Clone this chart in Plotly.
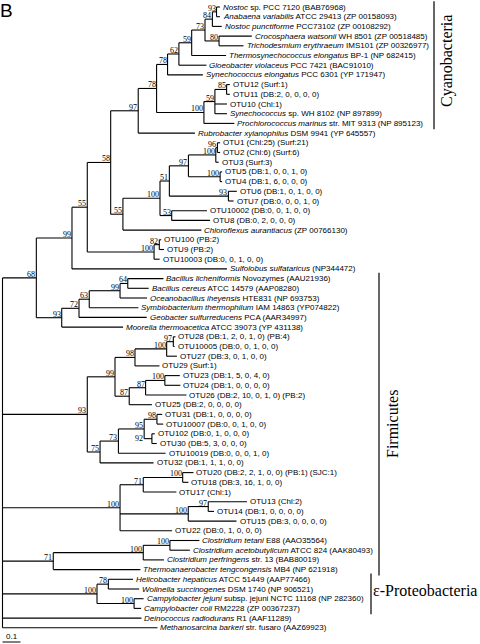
import plotly.graph_objects as go
from collections import defaultdict

# ---------------- data ----------------
leaf_ids = ["Nostoc_sp", "Anabaena", "N_punctiforme", "Crocosphaera", "Trichodesmium",
            "Thermosyn", "Gloeobacter", "Syn_elongatus", "OTU12", "OTU11", "OTU10",
            "Syn_WH8102", "Prochlorococcus", "Rubrobacter", "OTU1", "OTU2", "OTU3", "OTU5",
            "OTU4", "OTU6", "OTU7", "OTU10002", "OTU8", "Chloroflexus", "OTU100", "OTU9",
            "OTU10003", "Sulfolobus", "B_licheniformis", "B_cereus", "Oceanobacillus",
            "Symbiobacterium", "Geobacter", "Moorella", "OTU28", "OTU10005", "OTU27", "OTU29",
            "OTU23", "OTU24", "OTU26", "OTU25", "OTU31", "OTU10007", "OTU102", "OTU30",
            "OTU10019", "OTU32", "OTU20", "OTU18", "OTU17", "OTU13", "OTU14", "OTU15", "OTU22",
            "C_tetani", "C_acetobutylicum", "C_perfringens", "Thermoanaerobacter",
            "Helicobacter", "Wolinella", "C_jejuni", "C_coli", "Deinococcus", "Methanosarcina"]

leaf_labels = [
    "<i>Nostoc</i> sp. PCC 7120 (BAB76968)",
    "<i>Anabaena variabilis</i> ATCC 29413 (ZP 00158093)",
    "<i>Nostoc punctiforme</i> PCC73102 (ZP 00108292)",
    "<i>Crocosphaera watsonii</i> WH 8501 (ZP 00518485)",
    "<i>Trichodesmium erythraeum</i> IMS101 (ZP 00326977)",
    "<i>Thermosynechococcus elongatus</i> BP-1 (NP 682415)",
    "<i>Gloeobacter violaceus</i> PCC 7421 (BAC91010)",
    "<i>Synechococcus elongatus</i> PCC 6301 (YP 171947)",
    "OTU12 (Surf:1)",
    "OTU11 (DB:2, 0, 0, 0, 0)",
    "OTU10 (Chl:1)",
    "<i>Synechococcus</i> sp. WH 8102 (NP 897899)",
    "<i>Prochlorococcus marinus</i> str. MIT 9313 (NP 895123)",
    "<i>Rubrobacter xylanophilus</i> DSM 9941 (YP 645557)",
    "OTU1 (Chl:25) (Surf:21)",
    "OTU2 (Chl:6) (Surf:6)",
    "OTU3 (Surf:3)",
    "OTU5 (DB:1, 0, 0, 1, 0)",
    "OTU4 (DB:1, 6, 0, 0, 0)",
    "OTU6 (DB:1, 0, 1, 0, 0)",
    "OTU7 (DB:0, 0, 0, 1, 0)",
    "OTU10002 (DB:0, 0, 1, 0, 0)",
    "OTU8 (DB:0, 2, 0, 0, 0)",
    "<i>Chloroflexus aurantiacus</i> (ZP 00766130)",
    "OTU100 (PB:2)",
    "OTU9 (PB:2)",
    "OTU10003 (DB:0, 0, 1, 0, 0)",
    "<i>Sulfolobus sulfataricus</i> (NP344472)",
    "<i>Bacillus licheniformis</i> Novozymes (AAU21936)",
    "<i>Bacillus cereus</i> ATCC 14579 (AAP08280)",
    "<i>Oceanobacillus iheyensis</i> HTE831 (NP 693753)",
    "<i>Symbiobacterium thermophilum</i> IAM 14863 (YP074822)",
    "<i>Geobacter sulfurreducens</i> PCA (AAR34997)",
    "<i>Moorella thermoacetica</i> ATCC 39073 (YP 431138)",
    "OTU28 (DB:1, 2, 0, 1, 0) (PB:4)",
    "OTU10005 (DB:0, 0, 1, 0, 0)",
    "OTU27 (DB:3, 0, 1, 0, 0)",
    "OTU29 (Surf:1)",
    "OTU23 (DB:1, 5, 0, 4, 0)",
    "OTU24 (DB:1, 0, 0, 0, 0)",
    "OTU26 (DB:2, 10, 0, 1, 0) (PB:2)",
    "OTU25 (DB:2, 0, 0, 0, 0)",
    "OTU31 (DB:1, 0, 0, 0, 0)",
    "OTU10007 (DB:0, 0, 1, 0, 0)",
    "OTU102 (DB:0, 1, 0, 0, 0)",
    "OTU30 (DB:5, 3, 0, 0, 0)",
    "OTU10019 (DB:0, 0, 0, 1, 0)",
    "OTU32 (DB:1, 1, 1, 0, 0)",
    "OTU20 (DB:2, 2, 1, 0, 0) (PB:1) (SJC:1)",
    "OTU18 (DB:3, 16, 1, 0, 0)",
    "OTU17 (Chl:1)",
    "OTU13 (Chl:2)",
    "OTU14 (DB:1, 0, 0, 0, 0)",
    "OTU15 (DB:3, 0, 0, 0, 0)",
    "OTU22 (DB:0, 1, 0, 0, 0)",
    "<i>Clostridium tetani</i> E88 (AAO35564)",
    "<i>Clostridium acetobutylicum</i> ATCC 824 (AAK80493)",
    "<i>Clostridium perfringens</i> str. 13 (BAB80019)",
    "<i>Thermoanaerobacter tengcongensis</i> MB4 (NP 621918)",
    "<i>Helicobacter hepaticus</i> ATCC 51449 (AAP77466)",
    "<i>Wolinella succinogenes</i> DSM 1740 (NP 906521)",
    "<i>Campylobacter jejuni</i> subsp. jejuni NCTC 11168 (NP 282360)",
    "<i>Campylobacter coli</i> RM2228 (ZP 00367237)",
    "<i>Deinococcus radiodurans</i> R1 (AAF11289)",
    "<i>Methanosarcina barkeri</i> str. fusaro (AAZ69923)",
]

# tree edges (child, parent, branch length in substitutions/site)
edge_child = ["n68", "n93b", "n100F", "n71", "n100E", "Deinococcus", "Methanosarcina",
              "n99", "n93B", "n55a", "Sulfolobus", "n58", "n100f", "n97", "n55b",
              "n78L", "Rubrobacter", "n78u", "n100c", "n62", "Syn_elongatus", "n59", "Gloeobacter",
              "n73", "Thermosyn", "n84", "n80", "n93a", "N_punctiforme", "Nostoc_sp", "Anabaena",
              "Crocosphaera", "Trichodesmium", "n59b", "Prochlorococcus", "n85", "OTU10", "Syn_WH8102",
              "OTU12", "OTU11", "n100b", "Chloroflexus", "n51", "n53", "n97c", "n93c", "n100d", "n100e",
              "n96", "OTU3", "OTU1", "OTU2", "OTU5", "OTU4", "OTU6", "OTU7", "OTU10002", "OTU8",
              "n82", "OTU10003", "OTU100", "OTU9",
              "n72", "Moorella", "n63", "Geobacter", "n99B", "Symbiobacterium", "n64", "Oceanobacillus",
              "B_licheniformis", "B_cereus",
              "n99b", "n75", "n98", "n87b", "n100h", "OTU29", "n97d", "OTU27", "OTU28", "OTU10005",
              "n87a", "OTU25", "n100g", "OTU26", "OTU23", "OTU24", "n73b", "OTU32", "n95", "OTU10019",
              "n98b", "n92", "OTU31", "OTU10007", "OTU102", "OTU30",
              "n71b", "n100i", "OTU22", "n100j", "OTU17", "OTU20", "OTU18", "n97e", "OTU15", "OTU13", "OTU14",
              "n100k", "Thermoanaerobacter", "n100l", "C_perfringens", "C_tetani", "C_acetobutylicum",
              "n78e", "n100m", "Helicobacter", "Wolinella", "C_jejuni", "C_coli"]
edge_parent = ["root", "root", "root", "root", "root", "root", "root",
               "n68", "n68", "n99", "n99", "n55a", "n55a", "n58", "n58",
               "n97", "n97", "n78L", "n78L", "n78u", "n78u", "n62", "n62",
               "n59", "n59", "n73", "n73", "n84", "n84", "n93a", "n93a",
               "n80", "n80", "n100c", "n100c", "n59b", "n59b", "n59b",
               "n85", "n85", "n55b", "n55b", "n100b", "n100b", "n51", "n51", "n97c", "n97c",
               "n100d", "n100d", "n96", "n96", "n100e", "n100e", "n93c", "n93c", "n53", "n53",
               "n100f", "n100f", "n82", "n82",
               "n93B", "n93B", "n72", "n72", "n63", "n63", "n99B", "n99B",
               "n64", "n64",
               "n93b", "n93b", "n99b", "n99b", "n98", "n98", "n100h", "n100h", "n97d", "n97d",
               "n87b", "n87b", "n87a", "n87a", "n100g", "n100g", "n75", "n75", "n73b", "n73b",
               "n95", "n95", "n98b", "n98b", "n92", "n92",
               "n100F", "n100F", "n100F", "n71b", "n71b", "n100j", "n100j", "n100i", "n100i", "n97e", "n97e",
               "n71", "n71", "n100k", "n100k", "n100l", "n100l",
               "n100E", "n100E", "n78e", "n78e", "n100m", "n100m"]
edge_length = [0.188, 0.471, 0.653, 0.282, 0.525, 0.772, 0.861,
               0.198, 0.141, 0.085, 0.861, 0.130, 0.371, 0.153, 0.068,
               0.102, 0.315, 0.061, 0.263, 0.063, 0.196, 0.071, 0.153,
               0.074, 0.191, 0.041, 0.078, 0.023, 0.052, 0.019, 0.019,
               0.182, 0.136, 0.061, 0.169, 0.065, 0.067, 0.067,
               0.018, 0.018, 0.206, 0.436, 0.052, 0.065, 0.106, 0.328, 0.152, 0.176,
               0.009, 0.016, 0.015, 0.015, 0.011, 0.011, 0.047, 0.029, 0.196, 0.213,
               0.029, 0.031, 0.011, 0.026,
               0.096, 0.341, 0.057, 0.376, 0.171, 0.273, 0.043, 0.150,
               0.198, 0.116,
               0.154, 0.071, 0.111, 0.079, 0.176, 0.136, 0.037, 0.057, 0.012, 0.007,
               0.091, 0.126, 0.107, 0.227, 0.083, 0.086, 0.102, 0.297, 0.143, 0.262,
               0.071, 0.043, 0.029, 0.035, 0.016, 0.027,
               0.129, 0.379, 0.289, 0.219, 0.184, 0.060, 0.032, 0.111, 0.268, 0.215, 0.032,
               0.500, 0.484, 0.148, 0.115, 0.164, 0.111,
               0.063, 0.206, 0.137, 0.171, 0.053, 0.039]

bootstrap_nodes = ["n68", "n99", "n55a", "n58", "n97", "n78L", "n78u", "n62", "n59", "n73", "n84",
                   "n93a", "n80", "n100c", "n59b", "n85", "n55b", "n100b", "n51", "n97c", "n100d",
                   "n96", "n100e", "n93c", "n53", "n100f", "n82", "n93B", "n72", "n63", "n99B", "n64",
                   "n93b", "n99b", "n98", "n100h", "n97d", "n87b", "n87a", "n100g", "n75", "n73b",
                   "n95", "n98b", "n92", "n100F", "n71b", "n100j", "n100i", "n97e", "n71", "n100k",
                   "n100l", "n100E", "n78e", "n100m"]
bootstrap_values = [68, 99, 55, 58, 97, 78, 78, 62, 59, 73, 84,
                    93, 80, 100, 59, 85, 55, 100, 51, 97, 100,
                    96, 100, 93, 53, 100, 82, 93, 72, 63, 99, 64,
                    93, 99, 98, 100, 97, 87, 87, 100, 75, 73,
                    95, 98, 92, 100, 71, 100, 100, 97, 71, 100,
                    100, 100, 78, 100]

clade_names = ["Cyanobacteria", "Firmicutes", "ε-Proteobacteria"]
clade_first_leaf = ["Nostoc_sp", "B_licheniformis", "Helicobacter"]
clade_last_leaf = ["Prochlorococcus", "Thermoanaerobacter", "C_coli"]

scale_bar_length = 0.1

# ---------------- layout of the tree ----------------
kids = defaultdict(list)
blen = {}
par = {}
for c, p, l in zip(edge_child, edge_parent, edge_length):
    kids[p].append(c)
    blen[c] = l
    par[c] = p
kids = dict(kids)

xpos = {"root": 0.0}
stack = ["root"]
while stack:
    n = stack.pop()
    for c in kids.get(n, []):
        xpos[c] = xpos[n] + blen[c]
        stack.append(c)

ypos = {lid: i for i, lid in enumerate(leaf_ids)}


def set_y(n):
    if n in ypos:
        return ypos[n]
    ys = [set_y(c) for c in kids[n]]
    ypos[n] = (min(ys) + max(ys)) / 2
    return ypos[n]


set_y("root")

lx, ly = [], []
for n, ch in kids.items():
    cy = [ypos[c] for c in ch]
    lx += [xpos[n], xpos[n], None]
    ly += [min(cy), max(cy), None]
    for c in ch:
        lx += [xpos[n], xpos[c], None]
        ly += [ypos[c], ypos[c], None]

# pixel geometry
W, H = 480, 644
PX_PER_UNIT = 180.0
ROOT_PX = 2.5
ROW0_PX, ROW_PX = 7.0, 9.7
x_range = [-ROOT_PX / PX_PER_UNIT, (W - ROOT_PX) / PX_PER_UNIT]
y_range = [(H - ROW0_PX) / ROW_PX, -ROW0_PX / ROW_PX]

fig = go.Figure()
fig.add_trace(go.Scatter(x=lx, y=ly, mode="lines", line=dict(color="black", width=1.1),
                         hoverinfo="skip", showlegend=False))

# scale bar
bar_y = (642.0 - ROW0_PX) / ROW_PX
fig.add_trace(go.Scatter(x=[0, scale_bar_length], y=[bar_y, bar_y], mode="lines",
                         line=dict(color="black", width=1), hoverinfo="skip", showlegend=False))

ann = []
SANS = "Liberation Sans, Arial, Helvetica, sans-serif"
SERIF = "Liberation Serif, Times New Roman, serif"
for lid, lab in zip(leaf_ids, leaf_labels):
    ann.append(dict(x=xpos[lid], y=ypos[lid], text=lab, xanchor="left", yanchor="middle",
                    xshift=3, showarrow=False, borderpad=0, borderwidth=0,
                    font=dict(family=SANS, size=8, color="black")))

for n, v in zip(bootstrap_nodes, bootstrap_values):
    if n == "n92":
        ann.append(dict(x=xpos[par[n]], y=ypos[n], text=str(v), xanchor="right", yanchor="middle",
                        xshift=-1, showarrow=False, borderpad=0, borderwidth=0,
                        font=dict(family=SERIF, size=8, color="black")))
    else:
        ann.append(dict(x=xpos[n], y=ypos[n], text=str(v), xanchor="right", yanchor="bottom",
                        xshift=-1, yshift=-1, showarrow=False, borderpad=0, borderwidth=0,
                        font=dict(family=SERIF, size=8, color="black")))

# clade brackets and names
bracket_px = [434, 379, 371]
shapes = []
for (f, l, bx) in zip(clade_first_leaf, clade_last_leaf, bracket_px):
    shapes.append(dict(type="line", xref="paper", yref="y", x0=bx / W, x1=bx / W,
                       y0=ypos[f] - 0.6, y1=ypos[l] + 0.6, line=dict(color="black", width=1.2)))

ann.append(dict(xref="paper", yref="paper", x=447 / W, y=1 - 61 / H, text=clade_names[0],
                textangle=-90, xanchor="center", yanchor="middle", showarrow=False,
                font=dict(family=SERIF, size=16, color="black")))
ann.append(dict(xref="paper", yref="paper", x=392 / W, y=1 - 424 / H, text=clade_names[1],
                textangle=-90, xanchor="center", yanchor="middle", showarrow=False,
                font=dict(family=SERIF, size=16, color="black")))
ann.append(dict(xref="paper", yref="paper", x=373 / W, y=1 - 590 / H, text=clade_names[2],
                xanchor="left", yanchor="middle", showarrow=False, borderpad=0, borderwidth=0,
                font=dict(family=SERIF, size=16, color="black")))

# panel letter and scale label
ann.append(dict(xref="paper", yref="paper", x=0, y=1, text="B", xanchor="left", yanchor="top",
                showarrow=False, borderpad=0, borderwidth=0,
                font=dict(family=SANS, size=19, color="black")))
ann.append(dict(xref="x", yref="paper", x=scale_bar_length / 2, y=1 - 636.5 / H, text=str(scale_bar_length),
                xanchor="center", yanchor="middle", showarrow=False, borderpad=0, borderwidth=0,
                font=dict(family=SANS, size=8, color="black")))

fig.update_layout(width=W, height=H, margin=dict(l=0, r=0, t=0, b=0),
                  paper_bgcolor="white", plot_bgcolor="white", showlegend=False,
                  xaxis=dict(visible=False, range=x_range, fixedrange=True),
                  yaxis=dict(visible=False, range=y_range, fixedrange=True),
                  annotations=ann, shapes=shapes)

fig.write_html("out.html", config={"displayModeBar": False},
               post_script="document.body.style.margin='0';document.body.style.overflow='hidden';")
